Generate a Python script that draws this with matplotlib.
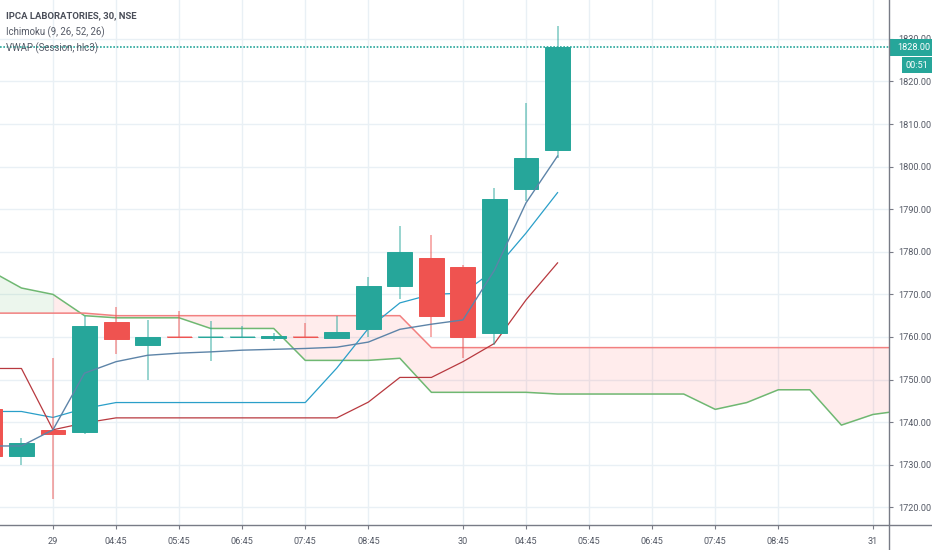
import matplotlib
matplotlib.use('Agg')

import numpy as np
import matplotlib.pyplot as plt
from matplotlib.patches import Rectangle

# candles, first one starts off the left edge
idx = list(range(-2, 17))
opens = [1743, 1732, 1738.2, 1737.6, 1763.4, 1758, 1760, 1760, 1760, 1759.8, 1760, 1759.8, 1761.9, 1772, 1778.5, 1776.5, 1760.9, 1794.7, 1804]
closes = [1732, 1735, 1737.3, 1762.6, 1759.5, 1760, 1760, 1760, 1760, 1760.2, 1760, 1761.2, 1772, 1780, 1765, 1760, 1792.3, 1802, 1828]
highs = [1745, 1736.3, 1755, 1765, 1767, 1764, 1766, 1763.8, 1762.6, 1761, 1763.2, 1765, 1774.2, 1786, 1784, 1777, 1795, 1815, 1833]
lows = [1732, 1730, 1722, 1737.3, 1756, 1750, 1760, 1754.4, 1760, 1759, 1760, 1759.8, 1760, 1769, 1760, 1755, 1758, 1792, 1802]
# bars that closed flat but count as falling
flat_down = [4, 8]

vwap = [1734.4, 1734.4, 1738.2, 1751.5, 1754.2, 1755.7, 1756.2, 1756.5, 1756.9, 1757.1, 1757.3, 1757.6, 1758.8, 1761.8, 1763, 1764, 1775.7, 1791.5, 1802.5]
conversion = [1742.5, 1742.5, 1741.1, 1743.2, 1744.6, 1744.6, 1744.6, 1744.6, 1744.6, 1744.6, 1744.6, 1752.7, 1762, 1768, 1770, 1770.3, 1775.7, 1784.4, 1793.9]
base = [1752.6, 1752.6, 1738.2, 1739.8, 1741, 1741, 1741, 1741, 1741, 1741, 1741, 1741, 1744.7, 1750.5, 1750.5, 1754.2, 1758.5, 1768.7, 1777.4]

# cloud runs 26 bars further than the candles
cloud_idx = list(range(-2, 28))
lead_a = [1775.6, 1771.5, 1770, 1765, 1764.5, 1764.5, 1764.5, 1762, 1762, 1762, 1754.5, 1754.5, 1754.5, 1755, 1747, 1747, 1747, 1747, 1746.6,
          1746.6, 1746.6, 1746.6, 1746.6, 1743, 1744.6, 1747.6, 1747.6, 1739.3, 1741.8, 1742.8]
lead_b = [1765.6, 1765.6, 1765.6, 1765.6, 1765, 1765, 1765, 1765, 1765, 1765, 1765, 1765, 1765, 1765, 1757.5, 1757.5, 1757.5, 1757.5, 1757.5,
          1757.5, 1757.5, 1757.5, 1757.5, 1757.5, 1757.5, 1757.5, 1757.5, 1757.5, 1757.5, 1757.5]

tick_idx = [0, 2, 4, 6, 8, 10, 13, 15, 17, 19, 21, 23, 26]
tick_labels = ['29', '04:45', '05:45', '06:45', '07:45', '08:45', '30', '04:45', '05:45', '06:45', '07:45', '08:45', '31']
price_ticks = [1720, 1730, 1740, 1750, 1760, 1770, 1780, 1790, 1800, 1810, 1820, 1830]
last_price = 1828
countdown = '00:51'

UP = '#26a69a'
DOWN = '#ef5350'
GRID = '#e9f0f5'
AXIS = '#787b86'
TEXT = '#555a66'
BODY_W = 0.79

plt.rcParams['font.family'] = ['Roboto', 'DejaVu Sans']

fig = plt.figure(figsize=(9.32, 5.5), dpi=100)
ax = fig.add_axes([0, 25 / 550, 889 / 932, 525 / 550])
ax.set_xlim(-1.68, 26.51)
ax.set_ylim(1715.84, 1839.14)

ax.set_axisbelow(True)
ax.grid(True, color=GRID, linewidth=1)
for s in ax.spines.values():
    s.set_visible(False)

ax.set_xticks(tick_idx)
ax.set_xticklabels(tick_labels)
ax.yaxis.tick_right()
ax.set_yticks(price_ticks)
ax.set_yticklabels([f'{p:.2f}' for p in price_ticks])
ax.tick_params(axis='both', length=3, width=0.8, color=AXIS, labelcolor=TEXT, labelsize=6.6)
ax.tick_params(axis='x', pad=6)
ax.tick_params(axis='y', pad=4)

# Ichimoku cloud
cx = np.array(cloud_idx)
a = np.array(lead_a)
b = np.array(lead_b)
ax.fill_between(cx, a, b, where=cx <= 0, color='#4caf50', alpha=0.1, linewidth=0, zorder=1)
ax.fill_between(cx, a, b, where=cx >= 0, color='#ff5252', alpha=0.11, linewidth=0, zorder=1)
ax.plot(cx, a, color='#6fb872', linewidth=1.1, zorder=2)
ax.plot(cx, b, color='#f28080', linewidth=1.1, zorder=2)
ax.plot(idx, conversion, color='#2a9fc9', linewidth=0.9, zorder=2)
ax.plot(idx, base, color='#b8393f', linewidth=0.9, zorder=2)

# candles
o = np.array(opens)
c = np.array(closes)
colors = [DOWN if (cl < op or i in flat_down) else UP for i, op, cl in zip(idx, opens, closes)]
ax.vlines(idx, lows, highs, colors=colors, linewidth=1.1, alpha=0.6, zorder=3)
ax.bar(idx, c - o, bottom=o, width=BODY_W, color=colors, edgecolor=colors, linewidth=0.7, zorder=4)
for i, op, cl, col in zip(idx, opens, closes, colors):
    if op == cl:
        ax.hlines(op, i - BODY_W / 2, i + BODY_W / 2, colors=col, linewidth=1.1, alpha=0.6, zorder=4)

ax.plot(idx, vwap, color='#5d84a8', linewidth=1.0, zorder=5)

# last price line and tags
ax.axhline(last_price, color=UP, linewidth=1.2, linestyle=(0, (1, 1)), zorder=6)
tag_y = 1 - 47.5 / 550
fig.add_artist(plt.Line2D([889 / 932, 889 / 932], [0, 1], color=AXIS, linewidth=1))
fig.add_artist(plt.Line2D([0, 1], [25 / 550, 25 / 550], color=AXIS, linewidth=1))
ax.add_patch(Rectangle((889 / 932, 1 - 56 / 550), 43 / 932, 17 / 550, transform=fig.transFigure,
                       facecolor=UP, edgecolor='none', clip_on=False, zorder=10))
ax.add_patch(Rectangle((902 / 932, 1 - 73 / 550), 30 / 932, 16 / 550, transform=fig.transFigure,
                       facecolor=UP, edgecolor='none', clip_on=False, zorder=10))
ax.text(897 / 932, tag_y, f'{last_price:.2f}', transform=fig.transFigure, color='white', fontsize=6.6,
        va='center', ha='left', zorder=11, clip_on=False)
ax.text(917 / 932, 1 - 65 / 550, countdown, transform=fig.transFigure, color='white', fontsize=6.6,
        va='center', ha='center', zorder=11, clip_on=False)

# legend text top left
fig.text(6 / 932, 1 - 16 / 550, 'IPCA LABORATORIES, 30, NSE', color='#4a4e59', fontsize=6.8, fontweight='bold', va='center')
fig.text(6 / 932, 1 - 32 / 550, 'Ichimoku (9, 26, 52, 26)', color=TEXT, fontsize=6.9, va='center')
fig.text(6 / 932, 1 - 48 / 550, 'VWAP (Session, hlc3)', color=TEXT, fontsize=6.9, va='center')

plt.savefig('out.png', dpi=100)
